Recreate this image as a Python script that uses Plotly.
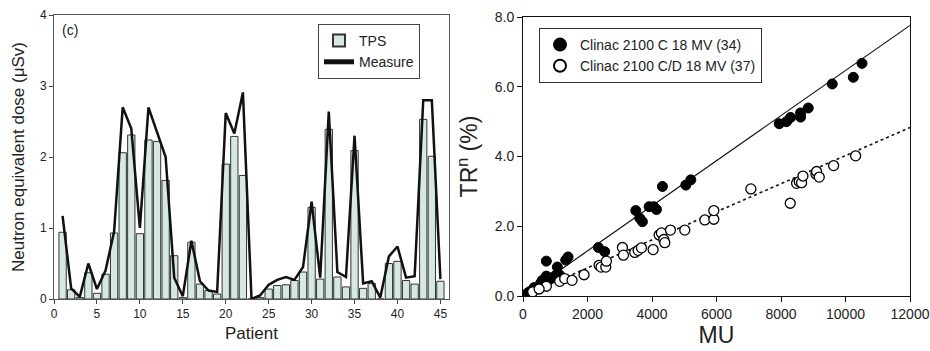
import plotly.graph_objects as go

# ---- Left panel data ----
patients = list(range(1, 46))
tps = [0.94, 0.13, 0.02, 0.37, 0.08, 0.35, 0.93, 2.06, 2.31, 0.92,
       2.24, 2.22, 1.67, 0.61, 0.02, 0.80, 0.21, 0.12, 0.07, 1.90,
       2.29, 1.74, 0.00, 0.02, 0.14, 0.19, 0.20, 0.26, 0.38, 1.29,
       0.28, 2.39, 0.31, 0.17, 2.09, 0.15, 0.22, 0.00, 0.50, 0.53,
       0.26, 0.21, 2.53, 2.01, 0.25]
measure = [1.17, 0.15, 0.03, 0.50, 0.14, 0.40, 0.95, 2.70, 2.40, 1.00,
           2.70, 2.35, 2.00, 0.30, 0.04, 0.82, 0.25, 0.12, 0.10, 2.62,
           2.33, 2.91, 0.00, 0.05, 0.20, 0.27, 0.31, 0.27, 0.45, 1.37,
           0.30, 2.64, 0.38, 0.31, 2.30, 0.22, 0.25, 0.02, 0.60, 0.74,
           0.30, 0.32, 2.80, 2.80, 0.28]
left_xticks = list(range(0, 46, 5))
left_yticks = [0, 1, 2, 3, 4]

# ---- Right panel data ----
c_mu = [124, 200, 341, 548, 724, 724, 828, 900, 1065, 1138, 1324, 1397,
        2338, 2534, 3497, 3621, 3703, 3910, 4055, 4138, 4324, 5048, 5203,
        7945, 8172, 8297, 8607, 8607, 8845, 9590, 10242, 10511, 600, 1000]
c_tr = [0.07, 0.12, 0.24, 0.37, 1.00, 0.57, 0.50, 0.52, 0.83, 0.60, 1.03, 1.12,
        1.39, 1.27, 2.45, 2.23, 2.13, 2.56, 2.56, 2.48, 3.14, 3.18, 3.33,
        4.94, 5.00, 5.12, 5.25, 5.13, 5.39, 6.08, 6.27, 6.67, 0.45, 0.58]
cd_mu = [724, 1138, 1293, 1521, 1893, 2359, 2421, 2566, 2586, 3083, 3114,
         3466, 3569, 3672, 4034, 4221, 4293, 4366, 4397, 4572, 5017, 5638,
         5917, 5917, 7065, 8286, 8483, 8566, 8638, 8680, 9083, 9104, 9186,
         9631, 10314, 300, 500]
cd_tr = [0.28, 0.42, 0.50, 0.45, 0.61, 0.88, 0.83, 0.83, 1.00, 1.39, 1.17,
         1.25, 1.31, 1.38, 1.33, 1.75, 1.81, 1.62, 1.53, 1.89, 1.89, 2.18,
         2.20, 2.45, 3.07, 2.66, 3.23, 3.28, 3.25, 3.44, 3.50, 3.57, 3.41,
         3.74, 4.02, 0.12, 0.20]
fit_x = [0, 12000]
fit_c = [0.0, 7.76]
fit_cd = [0.0, 4.83]
right_xticks = [0, 2000, 4000, 6000, 8000, 10000, 12000]
right_xticklabels = ["0", "2000", "4000", "6000", "8000", "10000", "12000"]
right_yticks = [0, 2, 4, 6, 8]
right_yticklabels = ["0.0", "2.0", "4.0", "6.0", "8.0"]

font_family = "Liberation Sans, Arial, sans-serif"

fig = go.Figure()

fig.add_trace(go.Bar(x=patients, y=tps, name="TPS", width=0.85,
                     marker=dict(color="#d6e9e1", line=dict(color="#333", width=1)),
                     xaxis="x", yaxis="y", legend="legend"))
fig.add_trace(go.Scatter(x=patients, y=measure, name="Measure", mode="lines",
                         line=dict(color="#111", width=2.5),
                         xaxis="x", yaxis="y", legend="legend"))

fig.add_trace(go.Scatter(x=fit_x, y=fit_c, mode="lines", showlegend=False,
                         line=dict(color="#111", width=1.2), xaxis="x2", yaxis="y2"))
fig.add_trace(go.Scatter(x=fit_x, y=fit_cd, mode="lines", showlegend=False,
                         line=dict(color="#111", width=1.6, dash="dot"), xaxis="x2", yaxis="y2"))
fig.add_trace(go.Scatter(x=c_mu, y=c_tr, mode="markers", name="Clinac 2100 C 18 MV (34)",
                         marker=dict(color="#000", size=10, line=dict(color="#000", width=1)),
                         xaxis="x2", yaxis="y2", legend="legend2"))
fig.add_trace(go.Scatter(x=cd_mu, y=cd_tr, mode="markers", name="Clinac 2100 C/D 18 MV (37)",
                         marker=dict(color="white", size=10, line=dict(color="#000", width=1.3)),
                         xaxis="x2", yaxis="y2", legend="legend2"))

W, H = 930, 351
fig.update_layout(
    width=W, height=H, margin=dict(l=0, r=0, t=0, b=0, autoexpand=False),
    paper_bgcolor="white", plot_bgcolor="white",
    font=dict(family=font_family, color="#222"),
    xaxis=dict(domain=[54/W, 449/W], range=[0, 46], tickvals=left_xticks,
               ticks="outside", ticklen=4, tickcolor="#444", tickfont=dict(size=12),
               showgrid=False, zeroline=False, showline=True, linecolor="#555", mirror=True,
               automargin=False,
               title=dict(text="Patient", font=dict(size=17), standoff=6)),
    yaxis=dict(domain=[1-299/H, 1-15/H], range=[0, 4], tickvals=left_yticks,
               ticks="outside", ticklen=4, tickcolor="#444", tickfont=dict(size=12),
               showgrid=False, zeroline=False, showline=True, linecolor="#555", mirror=True,
               automargin=False,
               title=dict(text="Neutron equivalent dose (μSv)", font=dict(size=17), standoff=10)),
    xaxis2=dict(domain=[523/W, 910/W], range=[0, 12000], tickvals=right_xticks,
                ticktext=right_xticklabels, ticklabeloverflow="allow",
                ticks="outside", ticklen=5, tickcolor="#111", tickfont=dict(size=14),
                showgrid=False, zeroline=False, showline=True, linecolor="#111", mirror=True,
                anchor="y2", automargin=False,
                title=dict(text="MU", font=dict(size=23), standoff=6)),
    yaxis2=dict(domain=[1-296/H, 1-17/H], range=[0, 8], tickvals=right_yticks,
                ticktext=right_yticklabels, ticks="outside", ticklen=5, tickcolor="#111",
                tickfont=dict(size=14), anchor="x2", automargin=False,
                showgrid=False, zeroline=False, showline=True, linecolor="#111", mirror=True,
                title=dict(text="TR<sup>n</sup> (%)", font=dict(size=23), standoff=10)),
    legend=dict(x=318/W, y=1-24/H, xanchor="left", yanchor="top",
                bgcolor="white", bordercolor="#444", borderwidth=1,
                font=dict(size=14), tracegroupgap=0, itemsizing="constant"),
    legend2=dict(x=539/W, y=1-28/H, xanchor="left", yanchor="top",
                 bgcolor="white", bordercolor="#333", borderwidth=1,
                 font=dict(size=14), tracegroupgap=0, itemsizing="constant"),
    annotations=[dict(text="(c)", x=60/W, y=1-30/H, xref="paper", yref="paper",
                      xanchor="left", yanchor="middle", showarrow=False,
                      font=dict(size=14, color="#222"))],
)

fig.write_html("out.html", post_script="document.body.style.margin='0';",
               config={"displayModeBar": False})
